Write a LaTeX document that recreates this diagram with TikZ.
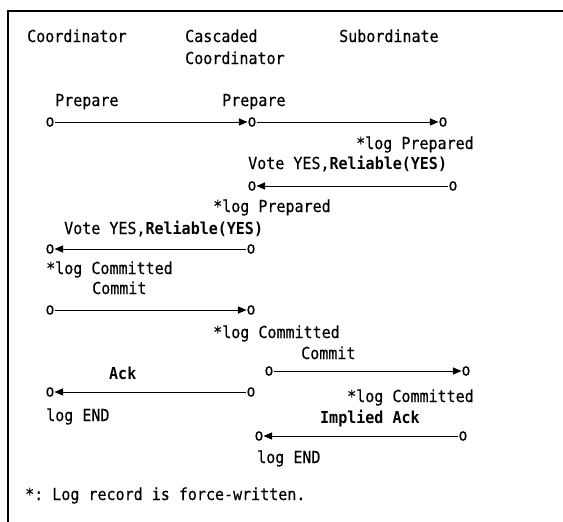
\documentclass[tikz,border=0pt]{standalone}
\usepackage{fontspec}
\setmonofont[FakeStretch=0.91,UprightFeatures={FakeBold=0.4}]{DejaVu Sans Mono}
\usetikzlibrary{arrows.meta}
\begin{document}
\begin{tikzpicture}[x=1pt,y=-1pt,
  every node/.style={font=\ttfamily\fontsize{16.5}{18}\selectfont},
  lbl/.style={anchor=base west, inner sep=0pt},
  endpt/.style={inner sep=0pt, outer sep=0pt},
  msg/.style={-{Triangle[length=8.5pt,width=7pt]}, line width=0.9pt},
  frame/.style={line width=1.6pt}]
\useasboundingbox (0,0) rectangle (563,522);
\draw[frame] (8,522) -- (8,11) -- (563,11);

% headers
\node[lbl] (hcoord) at (27,42) {Coordinator};
\node[lbl] (hcasc) at (185,42) {Cascaded};
\node[lbl] (hcasc2) at (185,64) {Coordinator};
\node[lbl] (hsub) at (339,42) {Subordinate};

% prepare
\node[lbl] (prep1) at (55,106) {Prepare};
\node[lbl] (prep2) at (222,106) {Prepare};
\node[endpt] (a1) at (50,122) {o};
\node[endpt] (b1) at (252,122) {o};
\node[endpt] (c1) at (443,122) {o};
\draw[msg] (a1) -- (b1);
\draw[msg] (b1) -- (c1);
\node[lbl] (logp1) at (356,149) {*log Prepared};

% vote from subordinate
\node[lbl] (vote1) at (248,169) {Vote YES,\textbf{Reliable(YES)}};
\node[endpt] (b2) at (252,186) {o};
\node[endpt] (c2) at (453,186) {o};
\draw[msg] (c2) -- (b2);
\node[lbl] (logp2) at (213,212) {*log Prepared};

% vote from cascaded coordinator
\node[lbl] (vote2) at (64,234) {Vote YES,\textbf{Reliable(YES)}};
\node[endpt] (a3) at (50,249) {o};
\node[endpt] (b3) at (251,249) {o};
\draw[msg] (b3) -- (a3);
\node[lbl] (logc1) at (46,274) {*log Committed};

% commit
\node[lbl] (com1) at (92,294) {Commit};
\node[endpt] (a4) at (50,310) {o};
\node[endpt] (b4) at (251,310) {o};
\draw[msg] (a4) -- (b4);
\node[lbl] (logc2) at (213,338) {*log Committed};

% commit to subordinate
\node[lbl] (com2) at (301,359) {Commit};
\node[endpt] (b5) at (269,371) {o};
\node[endpt] (c5) at (466,371) {o};
\draw[msg] (b5) -- (c5);
\node[lbl] (logc3) at (347,402) {*log Committed};

% ack
\node[lbl] (ack) at (109,379) {\textbf{Ack}};
\node[endpt] (a6) at (50,392) {o};
\node[endpt] (b6) at (251,392) {o};
\draw[msg] (b6) -- (a6);
\node[lbl] (end1) at (46,421) {log END};

% implied ack
\node[lbl] (iack) at (320,423) {\textbf{Implied Ack}};
\node[endpt] (b7) at (259,436) {o};
\node[endpt] (c7) at (463,436) {o};
\draw[msg] (c7) -- (b7);
\node[lbl] (end2) at (257,463) {log END};

% footnote
\node[lbl] (foot) at (25,500) {*: Log record is force-written.};
\end{tikzpicture}
\end{document}
